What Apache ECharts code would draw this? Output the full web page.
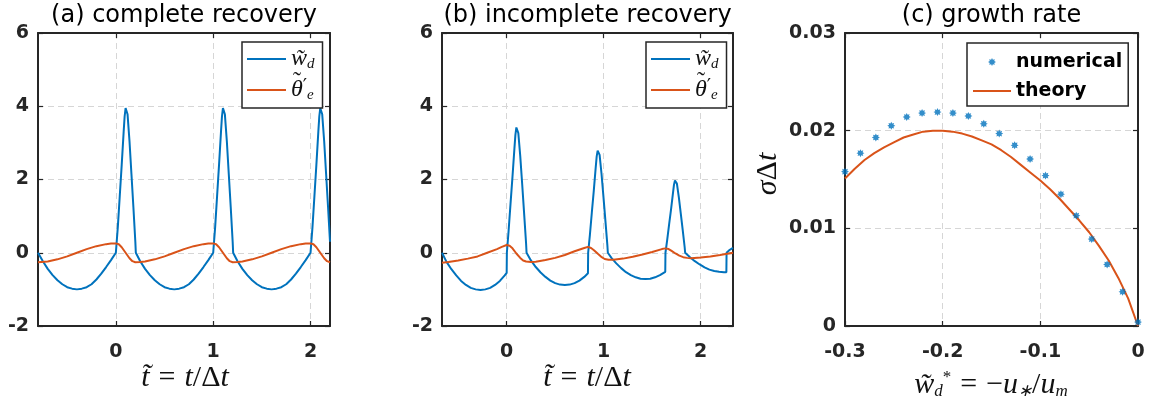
<!DOCTYPE html>
<html><head><meta charset="utf-8">
<script src="https://cdn.jsdelivr.net/npm/echarts@6/dist/echarts.min.js"></script>
<style>html,body{margin:0;padding:0;background:#fff;}#chart{width:1161px;height:407px;}</style>
</head><body><div id="chart"></div>
<script>
// ---------------- data ----------------
const panelTitles = ['(a) complete recovery', '(b) incomplete recovery', '(c) growth rate'];
const timeTicks = [0, 1, 2];
const timeRangeA = [-0.8, 2.2];
const timeRangeB = [-0.6667, 2.3333];
const wRange = [-2, 6];
const growthXRange = [-0.3, 0];
const growthYRange = [0, 0.03];

// panel (a): complete recovery  [t, value]
const wdA = [
  [-0.8,0],[-0.75,-0.23],[-0.7,-0.44],[-0.65,-0.61],[-0.6,-0.75],[-0.55,-0.86],[-0.5,-0.94],[-0.45,-0.98],[-0.4,-1.0],[-0.35,-0.98],[-0.3,-0.94],[-0.25,-0.86],[-0.2,-0.73],[-0.15,-0.57],[-0.1,-0.39],[-0.05,-0.2],[0,0],
  [0.02,0.7],[0.04,1.55],[0.06,2.4],[0.08,3.3],[0.09,3.72],[0.1,3.95],[0.105,4.0],[0.11,3.97],[0.12,3.78],[0.14,3.05],[0.16,2.15],[0.18,1.25],[0.2,0.3],[0.205,0],
  [0.25,-0.23],[0.3,-0.44],[0.35,-0.61],[0.4,-0.75],[0.45,-0.86],[0.5,-0.94],[0.55,-0.98],[0.6,-1.0],[0.65,-0.98],[0.7,-0.94],[0.75,-0.86],[0.8,-0.73],[0.85,-0.57],[0.9,-0.39],[0.95,-0.2],[1.0,0],
  [1.02,0.7],[1.04,1.55],[1.06,2.4],[1.08,3.3],[1.09,3.72],[1.1,3.95],[1.105,4.0],[1.11,3.97],[1.12,3.78],[1.14,3.05],[1.16,2.15],[1.18,1.25],[1.2,0.3],[1.205,0],
  [1.25,-0.23],[1.3,-0.44],[1.35,-0.61],[1.4,-0.75],[1.45,-0.86],[1.5,-0.94],[1.55,-0.98],[1.6,-1.0],[1.65,-0.98],[1.7,-0.94],[1.75,-0.86],[1.8,-0.73],[1.85,-0.57],[1.9,-0.39],[1.95,-0.2],[2.0,0],
  [2.02,0.7],[2.04,1.55],[2.06,2.4],[2.08,3.3],[2.09,3.72],[2.1,3.95],[2.105,4.0],[2.11,3.97],[2.12,3.78],[2.14,3.05],[2.16,2.15],[2.18,1.25],[2.2,0.3]
];
const thetaA = [
  [-0.8,-0.26],[-0.7,-0.24],[-0.6,-0.18],[-0.5,-0.1],[-0.4,0.0],[-0.3,0.1],[-0.2,0.18],[-0.1,0.235],[-0.05,0.25],[0,0.255],
  [0.03,0.23],[0.06,0.15],[0.1,0.0],[0.14,-0.15],[0.17,-0.23],[0.2,-0.26],[0.25,-0.255],
  [0.3,-0.24],[0.4,-0.18],[0.5,-0.1],[0.6,0.0],[0.7,0.1],[0.8,0.18],[0.9,0.235],[0.95,0.25],[1.0,0.255],
  [1.03,0.23],[1.06,0.15],[1.1,0.0],[1.14,-0.15],[1.17,-0.23],[1.2,-0.26],[1.25,-0.255],
  [1.3,-0.24],[1.4,-0.18],[1.5,-0.1],[1.6,0.0],[1.7,0.1],[1.8,0.18],[1.9,0.235],[1.95,0.25],[2.0,0.255],
  [2.03,0.23],[2.06,0.15],[2.1,0.0],[2.14,-0.15],[2.17,-0.23],[2.2,-0.26]
];

// panel (b): incomplete recovery  [t, value]
const wdB = [
  [-0.667,0],[-0.62,-0.25],[-0.57,-0.45],[-0.52,-0.62],[-0.47,-0.77],[-0.42,-0.88],[-0.37,-0.96],[-0.32,-1.0],[-0.27,-1.02],[-0.22,-1.0],[-0.17,-0.96],[-0.12,-0.88],[-0.07,-0.77],[-0.02,-0.62],[0,-0.55],
  [0.002,0],[0.02,0.6],[0.04,1.35],[0.06,2.08],[0.08,2.85],[0.09,3.22],[0.1,3.42],[0.105,3.46],[0.11,3.43],[0.12,3.27],[0.14,2.64],[0.16,1.87],[0.18,1.07],[0.2,0.26],[0.205,0],
  [0.25,-0.21],[0.3,-0.39],[0.35,-0.54],[0.4,-0.66],[0.45,-0.76],[0.5,-0.83],[0.55,-0.87],[0.6,-0.88],[0.65,-0.87],[0.7,-0.83],[0.75,-0.76],[0.8,-0.66],[0.838,-0.56],
  [0.84,0],[0.858,0.49],[0.878,1.1],[0.898,1.69],[0.918,2.33],[0.928,2.63],[0.938,2.79],[0.943,2.82],[0.948,2.8],[0.958,2.67],[0.978,2.15],[0.998,1.52],[1.018,0.87],[1.038,0.21],[1.043,0],
  [1.08,-0.14],[1.13,-0.29],[1.18,-0.42],[1.23,-0.53],[1.28,-0.61],[1.33,-0.67],[1.38,-0.71],[1.43,-0.72],[1.48,-0.71],[1.53,-0.67],[1.58,-0.61],[1.635,-0.52],
  [1.637,0],[1.655,0.35],[1.675,0.78],[1.695,1.19],[1.715,1.64],[1.725,1.86],[1.735,1.97],[1.74,1.99],[1.745,1.98],[1.755,1.89],[1.775,1.51],[1.795,1.07],[1.815,0.62],[1.835,0.15],[1.84,0],
  [1.89,-0.12],[1.94,-0.23],[1.99,-0.32],[2.04,-0.4],[2.09,-0.46],[2.14,-0.5],[2.19,-0.52],[2.24,-0.53],[2.265,-0.53],[2.267,0],[2.3,0.08],[2.333,0.13]
];
const thetaB = [
  [-0.667,-0.27],[-0.6,-0.25],[-0.5,-0.21],[-0.4,-0.16],[-0.3,-0.1],[-0.2,0.0],[-0.1,0.1],[-0.05,0.16],[0,0.21],
  [0.03,0.19],[0.06,0.12],[0.1,-0.02],[0.14,-0.14],[0.17,-0.21],[0.2,-0.24],[0.25,-0.25],[0.3,-0.245],
  [0.4,-0.2],[0.5,-0.14],[0.6,-0.06],[0.7,0.04],[0.8,0.13],[0.838,0.16],
  [0.87,0.13],[0.9,0.07],[0.94,-0.03],[0.98,-0.12],[1.01,-0.17],[1.05,-0.19],[1.1,-0.19],
  [1.2,-0.16],[1.3,-0.11],[1.4,-0.05],[1.5,0.02],[1.6,0.1],[1.635,0.12],
  [1.67,0.1],[1.7,0.05],[1.74,-0.02],[1.78,-0.08],[1.82,-0.12],[1.86,-0.14],[1.9,-0.15],
  [2.0,-0.13],[2.1,-0.1],[2.2,-0.06],[2.333,0.0]
];

// panel (c): growth rate
const wStarNum = [-0.3,-0.2842,-0.2684,-0.2526,-0.2368,-0.2211,-0.2053,-0.1895,-0.1737,-0.1579,-0.1421,-0.1263,-0.1105,-0.0947,-0.0789,-0.0632,-0.0474,-0.0316,-0.0158,0];
const sigmaNum = [0.0158,0.0177,0.0193,0.0205,0.0214,0.0218,0.0219,0.0218,0.0215,0.0207,0.0197,0.0185,0.0171,0.0154,0.0135,0.0113,0.0089,0.0063,0.0035,0.0004];
const theoryCurve = [
  [-0.30,0.0151],[-0.29,0.0161],[-0.28,0.0170],[-0.27,0.0177],[-0.26,0.0183],[-0.25,0.0188],[-0.24,0.0193],[-0.23,0.0196],[-0.22,0.0199],[-0.21,0.0200],
  [-0.20,0.0200],[-0.19,0.0199],[-0.18,0.0197],[-0.17,0.0194],[-0.16,0.0190],[-0.15,0.0186],[-0.14,0.0180],[-0.13,0.0173],[-0.12,0.0165],[-0.11,0.0157],
  [-0.10,0.0149],[-0.09,0.0140],[-0.08,0.0130],[-0.07,0.0119],[-0.06,0.0108],[-0.05,0.0096],[-0.04,0.0082],[-0.03,0.0067],[-0.02,0.0049],[-0.01,0.0028],[0.00,0.0000]
];
const legendC = ['numerical', 'theory'];

// ---------------- styling ----------------
const AX = '#262626';
const BLUE = '#0072BD';
const ORANGE = '#D95319';
const NOFILL = 'rgba(0,0,0,0)';
const tickFont = {fontFamily: 'DejaVu Sans', fontWeight: 'bold', fontSize: 19, color: AX};
const gridLine = {show: true, lineStyle: {color: '#d6d6d6', type: [6, 4], width: 1}};
const STAR = 'path://M10 0 L12.3 4.46 L17.07 2.93 L15.54 7.7 L20 10 L15.54 12.3 L17.07 17.07 L12.3 15.54 L10 20 L7.7 15.54 L2.93 17.07 L4.46 12.3 L0 10 L4.46 7.7 L2.93 2.93 L7.7 4.46 Z';

function xPair(gi, range, custom, interval) {
  const base = {
    gridIndex: gi, type: 'value', min: range[0], max: range[1],
    axisLine: {show: true, onZero: false, lineStyle: {color: AX, width: 2}},
    axisTick: {show: true, inside: true, length: 5, lineStyle: {color: AX, width: 1.2}}
  };
  if (interval) base.interval = interval;
  const bottom = Object.assign({}, base, {
    position: 'bottom',
    axisTick: Object.assign({}, base.axisTick, custom ? {customValues: custom} : {}),
    axisLabel: Object.assign({margin: 17}, tickFont, custom ? {customValues: custom} : {}),
    splitLine: gridLine
  });
  const top = Object.assign({}, base, {
    position: 'top',
    axisTick: Object.assign({}, base.axisTick, custom ? {customValues: custom} : {}),
    axisLabel: {show: false}, splitLine: {show: false}
  });
  return [bottom, top];
}
function yPair(gi, range, interval) {
  const base = {
    gridIndex: gi, type: 'value', min: range[0], max: range[1], interval: interval,
    axisLine: {show: true, onZero: false, lineStyle: {color: AX, width: 2}},
    axisTick: {show: true, inside: true, length: 5, lineStyle: {color: AX, width: 1.2}}
  };
  const left = Object.assign({}, base, {position: 'left', axisLabel: Object.assign({margin: 9}, tickFont), splitLine: gridLine});
  const right = Object.assign({}, base, {position: 'right', axisLabel: {show: false}, splitLine: {show: false}});
  return [left, right];
}

const xAxes = [].concat(xPair(0, timeRangeA, timeTicks), xPair(1, timeRangeB, timeTicks), xPair(2, growthXRange, null, 0.1));
const yAxes = [].concat(yPair(0, wRange, 2), yPair(1, wRange, 2), yPair(2, growthYRange, 0.01));

function lineSeries(name, data, xi, color) {
  return {name: name, type: 'line', xAxisIndex: xi, yAxisIndex: xi, data: data, symbol: 'none', showSymbol: false,
    lineStyle: {color: color, width: 2}, itemStyle: {color: color}, animation: false, z: 3};
}

const mathRich = {
  m: {fontFamily: 'Liberation Serif', fontStyle: 'italic', fontSize: 24, lineHeight: 24, color: '#111'},
  p: {fontFamily: 'DejaVu Serif', fontSize: 19, lineHeight: 19, padding: [0, 0, 5, 0], color: '#111'},
  s: {fontFamily: 'Liberation Serif', fontStyle: 'italic', fontSize: 15, lineHeight: 15, padding: [11, 0, 0, 0], color: '#111'}
};
function abLegend(left, names) {
  return {
    data: names, left: left, top: 42, orient: 'vertical', itemWidth: 39, itemHeight: 14, itemGap: 5,
    padding: [4, 8, 5, 4], borderColor: AX, borderWidth: 1.5, borderRadius: 0, backgroundColor: '#fff',
    selectedMode: false,
    itemStyle: {color: NOFILL, borderWidth: 0, borderColor: NOFILL},
    formatter: function (n) { return n.indexOf('w') === 0 ? '{m|w\u0303}{s|d}' : '{m|\u03B8}{p|\u2032}{s|e}'; },
    textStyle: {rich: mathRich}
  };
}
function thetaTilde(x) {
  return {type: 'text', x: x, y: 82, z: 100, style: {text: '\u02DC', fontFamily: 'Liberation Serif', fontSize: 24, fill: '#111', align: 'center', verticalAlign: 'middle'}};
}

const serif = 'Liberation Serif';
const labRich = {
  i: {fontFamily: serif, fontStyle: 'italic', fontSize: 30, fill: '#111'},
  r: {fontFamily: serif, fontSize: 30, fill: '#111'},
  o: {fontFamily: serif, fontSize: 30, fill: '#111', padding: [0, 9, 0, 9]},
  sb: {fontFamily: serif, fontStyle: 'italic', fontSize: 17, fill: '#111', padding: [14, 0, 0, 0]},
  sp: {fontFamily: serif, fontSize: 17, fill: '#111', padding: [0, 0, 14, 0]}
};
function titleText(x, txt) {
  return {type: 'text', x: x, y: 16, style: {text: txt, fontFamily: 'DejaVu Sans', fontSize: 24, fill: '#000', align: 'center', verticalAlign: 'middle'}};
}

const option = {
  backgroundColor: '#fff',
  animation: false,
  grid: [
    {left: 38, top: 33, width: 292, height: 293},
    {left: 442, top: 33, width: 291, height: 293},
    {left: 845, top: 33, width: 293, height: 293}
  ],
  xAxis: xAxes,
  yAxis: yAxes,
  legend: [
    abLegend(242, ['wd (a)', 'theta (a)']),
    abLegend(646, ['wd (b)', 'theta (b)']),
    {
      data: [{name: legendC[0]}, {name: legendC[1], itemStyle: {color: NOFILL, borderWidth: 0, borderColor: NOFILL}}],
      left: 967, top: 43, orient: 'vertical', itemWidth: 38, itemHeight: 8, itemGap: 5,
      padding: [7, 6, 3, 5], borderColor: AX, borderWidth: 1.5, backgroundColor: '#fff', selectedMode: false,
      textStyle: {fontFamily: 'DejaVu Sans', fontWeight: 'bold', fontSize: 19, lineHeight: 24, color: '#000'}
    }
  ],
  series: [
    lineSeries('wd (a)', wdA, 0, BLUE),
    lineSeries('theta (a)', thetaA, 0, ORANGE),
    lineSeries('wd (b)', wdB, 2, BLUE),
    lineSeries('theta (b)', thetaB, 2, ORANGE),
    {name: legendC[0], type: 'scatter', xAxisIndex: 4, yAxisIndex: 4,
      data: wStarNum.map(function (x, i) { return [x, sigmaNum[i]]; }),
      symbol: STAR, symbolSize: 8, symbolKeepAspect: true, itemStyle: {color: BLUE}, z: 4, clip: false},
    lineSeries(legendC[1], theoryCurve, 4, ORANGE)
  ],
  graphic: [
    titleText(184, panelTitles[0]),
    titleText(587.5, panelTitles[1]),
    titleText(991.5, panelTitles[2]),
    thetaTilde(297),
    thetaTilde(701),
    {type: 'text', x: 185, y: 378, style: {text: '{i|t\u0303}{o|=}{i|t}{r|/\u0394}{i|t}', rich: labRich, align: 'center', verticalAlign: 'middle'}},
    {type: 'text', x: 587, y: 378, style: {text: '{i|t\u0303}{o|=}{i|t}{r|/\u0394}{i|t}', rich: labRich, align: 'center', verticalAlign: 'middle'}},
    {type: 'text', x: 991, y: 385, style: {text: '{i|w\u0303}{sb|d}{sp|*}{o|=}{r|\u2212}{i|u}{sb|\u2217}{r|/}{i|u}{sb|m}', rich: labRich, align: 'center', verticalAlign: 'middle'}},
    {type: 'text', x: 768, y: 174, rotation: Math.PI / 2, style: {text: '{i|\u03C3}{r|\u0394}{i|t}', rich: labRich, align: 'center', verticalAlign: 'middle'}}
  ]
};

const chart = echarts.init(document.getElementById('chart'), null, {renderer: 'canvas'});
chart.setOption(option);
</script></body></html>
